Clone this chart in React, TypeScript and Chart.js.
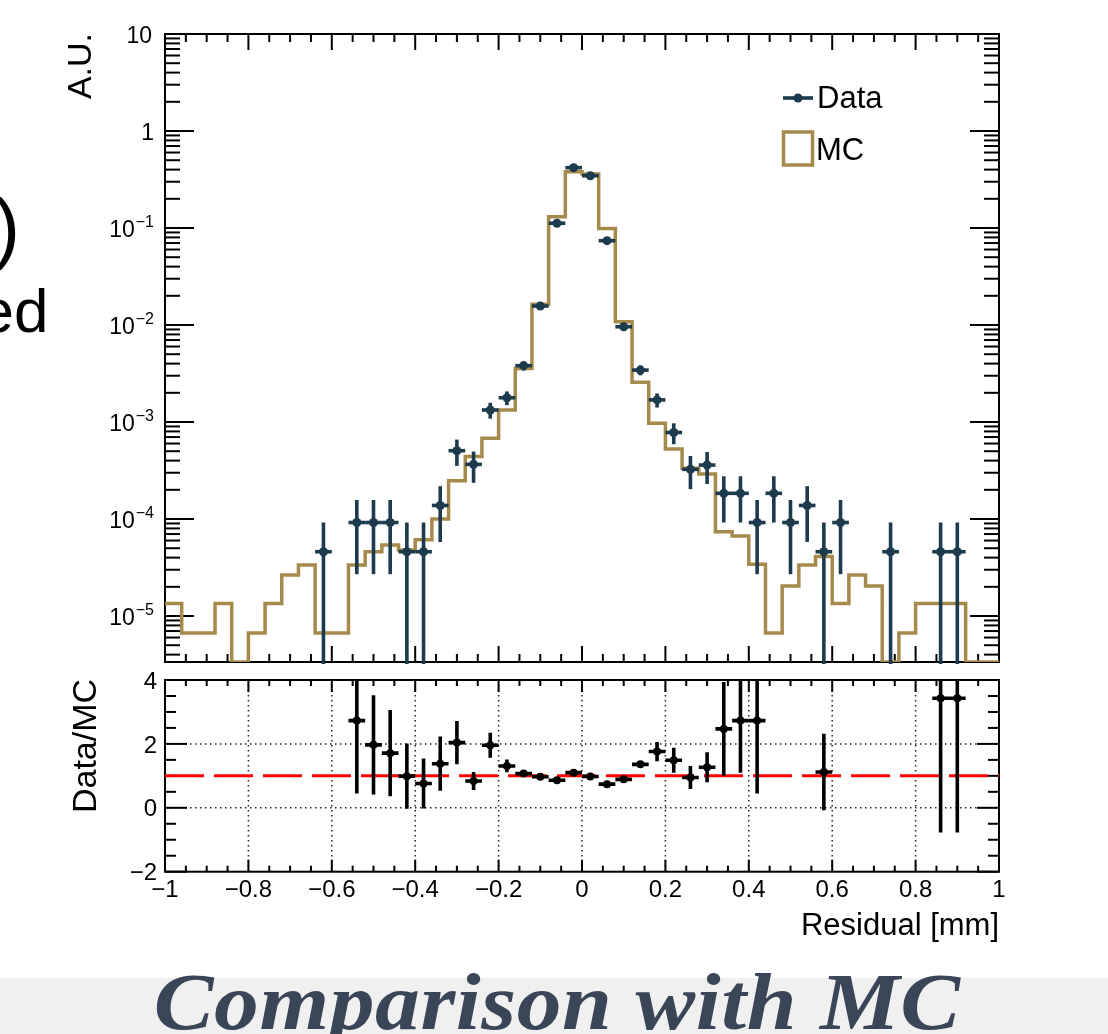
import React, { useEffect, useRef } from "react";
import { Chart, registerables } from "chart.js";

Chart.register(...registerables);

// ---------------- data ----------------
const binCenters = [
  -0.98, -0.94, -0.9, -0.86, -0.82, -0.78, -0.74, -0.7, -0.66, -0.62,
  -0.58, -0.54, -0.5, -0.46, -0.42, -0.38, -0.34, -0.3, -0.26, -0.22,
  -0.18, -0.14, -0.1, -0.06, -0.02, 0.02, 0.06, 0.1, 0.14, 0.18,
  0.22, 0.26, 0.3, 0.34, 0.38, 0.42, 0.46, 0.5, 0.54, 0.58,
  0.62, 0.66, 0.7, 0.74, 0.78, 0.82, 0.86, 0.9, 0.94, 0.98,
];
const binHalfWidth = 0.02;

const mcValues = [
  1.35e-5, 6.7e-6, 6.7e-6, 1.35e-5, 0, 6.7e-6, 1.35e-5, 2.65e-5, 3.36e-5, 6.7e-6,
  6.7e-6, 3.36e-5, 4.6e-5, 5.4e-5, 4.8e-5, 6.1e-5, 1.0e-4, 2.48e-4, 4.4e-4, 6.8e-4,
  1.33e-3, 3.57e-3, 1.64e-2, 0.131, 0.381, 0.36, 0.099, 1.08e-2, 2.57e-3, 9.7e-4,
  5.27e-4, 3.33e-4, 2.91e-4, 7.4e-5, 6.7e-5, 3.41e-5, 6.7e-6, 2.04e-5, 3.36e-5, 4.1e-5,
  1.35e-5, 2.65e-5, 2.04e-5, 0, 6.7e-6, 1.35e-5, 1.35e-5, 1.35e-5, 0, 0,
];

const dataValues = [
  0, 0, 0, 0, 0, 0, 0, 0, 0, 4.6e-5,
  0, 9.2e-5, 9.2e-5, 9.2e-5, 4.6e-5, 4.6e-5, 1.38e-4, 5.06e-4, 3.66e-4, 1.33e-3,
  1.78e-3, 3.81e-3, 1.57e-2, 0.112, 0.419, 0.346, 0.074, 9.6e-3, 3.43e-3, 1.69e-3,
  7.8e-4, 3.25e-4, 3.6e-4, 1.84e-4, 1.84e-4, 9.2e-5, 1.84e-4, 9.2e-5, 1.38e-4, 4.6e-5,
  9.2e-5, 0, 0, 4.6e-5, 0, 0, 4.6e-5, 4.6e-5, 0, 0,
];

const dataErrors = [
  0, 0, 0, 0, 0, 0, 0, 0, 0, 4.6e-5,
  0, 6.5e-5, 6.5e-5, 6.5e-5, 4.6e-5, 4.6e-5, 8.0e-5, 1.53e-4, 1.3e-4, 2.48e-4,
  2.87e-4, 4.2e-4, 8.5e-4, 2.3e-3, 4.4e-3, 4.0e-3, 1.85e-3, 6.6e-4, 4.0e-4, 2.8e-4,
  1.9e-4, 1.22e-4, 1.3e-4, 9.2e-5, 9.2e-5, 6.5e-5, 9.2e-5, 6.5e-5, 8.0e-5, 4.6e-5,
  6.5e-5, 0, 0, 4.6e-5, 0, 0, 4.6e-5, 4.6e-5, 0, 0,
];

const ratioX = [
  -0.54, -0.5, -0.46, -0.42, -0.38, -0.34, -0.3, -0.26, -0.22, -0.18,
  -0.14, -0.1, -0.06, -0.02, 0.02, 0.06, 0.1, 0.14, 0.18, 0.22,
  0.26, 0.3, 0.34, 0.38, 0.42, 0.58, 0.86, 0.9,
];
const ratioY = [
  2.73, 1.97, 1.71, 0.99, 0.76, 1.38, 2.04, 0.84, 1.96, 1.31,
  1.07, 0.97, 0.86, 1.1, 0.98, 0.74, 0.89, 1.36, 1.76, 1.49,
  0.95, 1.27, 2.47, 2.73, 2.73, 1.12, 3.43, 3.43,
];
const ratioErr = [
  2.28, 1.55, 1.35, 1.02, 0.78, 0.85, 0.68, 0.28, 0.39, 0.2,
  0.05, 0.03, 0.03, 0.03, 0.03, 0.03, 0.04, 0.08, 0.3, 0.39,
  0.36, 0.47, 1.47, 1.63, 2.28, 1.2, 4.2, 4.2,
];

const topYMin = Math.pow(10, -5.474);
const topYMax = 10;
const topDecades = [1, 0, -1, -2, -3, -4, -5];
const ratioYTicks = [4, 2, 0, -2];
const ratioYLabels = ["4", "2", "0", "\u22122"];
const ratioXTicks = [-1, -0.8, -0.6, -0.4, -0.2, 0, 0.2, 0.4, 0.6, 0.8, 1];
const ratioXLabels = ["\u22121", "\u22120.8", "\u22120.6", "\u22120.4", "\u22120.2", "0", "0.2", "0.4", "0.6", "0.8", "1"];
const ratioGridX = [-0.8, -0.6, -0.4, -0.2, 0, 0.2, 0.4, 0.6, 0.8];
const ratioGridY = [0, 2];

// ---------------- style ----------------
const MC_COLOR = "#a68a4b";
const DATA_COLOR = "#1c3b4c";
const SANS = '"Liberation Sans", Arial, Helvetica, sans-serif';

function seg(ctx: CanvasRenderingContext2D, x1: number, y1: number, x2: number, y2: number) {
  ctx.beginPath();
  ctx.moveTo(x1, y1);
  ctx.lineTo(x2, y2);
  ctx.stroke();
}

const topPlugin = {
  id: "topDecor",
  beforeDatasetsDraw(chart: any) {
    const { ctx, chartArea: a, scales } = chart;
    const x = scales.x;
    const y = scales.y;
    ctx.save();
    ctx.strokeStyle = "#000";
    ctx.lineWidth = 2;
    ctx.strokeRect(a.left, a.top, a.right - a.left, a.bottom - a.top);
    for (let i = 0; i <= 40; i++) {
      const px = x.getPixelForValue(-1 + i * 0.05);
      const len = i % 4 === 0 ? 16 : 8;
      seg(ctx, px, a.bottom, px, a.bottom - len);
      seg(ctx, px, a.top, px, a.top + len);
    }
    for (let d = -6; d <= 1; d++) {
      for (let m = 1; m <= 9; m++) {
        const v = m * Math.pow(10, d);
        if (v < topYMin * 0.999 || v > topYMax * 1.001) continue;
        const py = y.getPixelForValue(v);
        const len = m === 1 ? 29 : 15;
        seg(ctx, a.left, py, a.left + len, py);
        seg(ctx, a.right, py, a.right - len, py);
      }
    }
    ctx.restore();
  },
  afterDatasetsDraw(chart: any) {
    const { ctx, chartArea: a, scales } = chart;
    const x = scales.x;
    const y = scales.y;
    ctx.save();
    ctx.beginPath();
    ctx.rect(a.left, a.top - 2, a.right - a.left, a.bottom - a.top + 4);
    ctx.clip();
    ctx.strokeStyle = DATA_COLOR;
    ctx.lineWidth = 3.6;
    binCenters.forEach((c, i) => {
      const v = dataValues[i];
      if (!(v > 0)) return;
      const e = dataErrors[i];
      const px = x.getPixelForValue(c);
      const py = y.getPixelForValue(v);
      const lo = v - e > topYMin ? y.getPixelForValue(v - e) : a.bottom + 2;
      const hi = y.getPixelForValue(v + e);
      seg(ctx, px, lo, px, hi);
      seg(ctx, x.getPixelForValue(c - binHalfWidth), py, x.getPixelForValue(c + binHalfWidth), py);
    });
    ctx.restore();
  },
  afterDraw(chart: any) {
    const { ctx, scales } = chart;
    const y = scales.y;
    ctx.save();
    ctx.fillStyle = "#000";
    ctx.textBaseline = "middle";
    const right = 154;
    for (const k of topDecades) {
      const py = y.getPixelForValue(Math.pow(10, k)) + 3;
      if (k === 1 || k === 0) {
        ctx.font = `23px ${SANS}`;
        ctx.textAlign = "right";
        ctx.fillText(k === 1 ? "10" : "1", right - (k === 1 ? 2 : 0), py);
      } else {
        const sup = "\u2212" + String(-k);
        ctx.font = `16px ${SANS}`;
        const w2 = ctx.measureText(sup).width;
        ctx.textAlign = "left";
        ctx.fillText(sup, right - w2, py - 8);
        ctx.font = `23px ${SANS}`;
        ctx.textAlign = "right";
        ctx.fillText("10", right - w2 - 1, py);
      }
    }
    // y title
    ctx.save();
    ctx.translate(82, 33);
    ctx.rotate(-Math.PI / 2);
    ctx.font = `34px ${SANS}`;
    ctx.textAlign = "right";
    ctx.textBaseline = "middle";
    ctx.fillText("A.U.", 0, 0);
    ctx.restore();
    // legend
    ctx.strokeStyle = DATA_COLOR;
    ctx.fillStyle = DATA_COLOR;
    ctx.lineWidth = 3.6;
    seg(ctx, 783, 98, 813, 98);
    ctx.beginPath();
    ctx.arc(798, 98, 4.5, 0, Math.PI * 2);
    ctx.fill();
    ctx.strokeStyle = MC_COLOR;
    ctx.lineWidth = 3.5;
    ctx.strokeRect(783.5, 132, 29, 33);
    ctx.fillStyle = "#000";
    ctx.font = `31px ${SANS}`;
    ctx.textAlign = "left";
    ctx.textBaseline = "middle";
    ctx.fillText("Data", 817, 99);
    ctx.fillText("MC", 816, 151);
    ctx.restore();
  },
};

const ratioPlugin = {
  id: "ratioDecor",
  beforeDatasetsDraw(chart: any) {
    const { ctx, chartArea: a, scales } = chart;
    const x = scales.x;
    const y = scales.y;
    ctx.save();
    ctx.strokeStyle = "#222";
    ctx.lineWidth = 1.5;
    ctx.setLineDash([1.5, 3.5]);
    for (const g of ratioGridX) {
      const px = x.getPixelForValue(g);
      seg(ctx, px, a.top, px, a.bottom);
    }
    for (const g of ratioGridY) {
      const py = y.getPixelForValue(g);
      seg(ctx, a.left, py, a.right, py);
    }
    ctx.setLineDash([]);
    ctx.strokeStyle = "#000";
    ctx.lineWidth = 2;
    ctx.strokeRect(a.left, a.top, a.right - a.left, a.bottom - a.top);
    for (let i = 0; i <= 40; i++) {
      const px = x.getPixelForValue(-1 + i * 0.05);
      const len = i % 4 === 0 ? 12 : 6;
      seg(ctx, px, a.bottom, px, a.bottom - len);
      seg(ctx, px, a.top, px, a.top + len);
    }
    for (let i = 0; i <= 12; i++) {
      const py = y.getPixelForValue(-2 + i * 0.5);
      const len = i % 4 === 0 ? 22 : 11;
      seg(ctx, a.left, py, a.left + len, py);
      seg(ctx, a.right, py, a.right - len, py);
    }
    ctx.restore();
  },
  afterDatasetsDraw(chart: any) {
    const { ctx, chartArea: a, scales } = chart;
    const x = scales.x;
    const y = scales.y;
    ctx.save();
    ctx.beginPath();
    ctx.rect(a.left, a.top, a.right - a.left, a.bottom - a.top);
    ctx.clip();
    ctx.strokeStyle = "#000";
    ctx.lineWidth = 3.6;
    ratioX.forEach((c, i) => {
      const v = ratioY[i];
      const e = ratioErr[i];
      const px = x.getPixelForValue(c);
      const py = y.getPixelForValue(v);
      seg(ctx, px, y.getPixelForValue(v - e), px, y.getPixelForValue(v + e));
      seg(ctx, x.getPixelForValue(c - binHalfWidth), py, x.getPixelForValue(c + binHalfWidth), py);
    });
    ctx.restore();
  },
  afterDraw(chart: any) {
    const { ctx, scales } = chart;
    const x = scales.x;
    const y = scales.y;
    ctx.save();
    ctx.fillStyle = "#000";
    ctx.font = `24px ${SANS}`;
    ctx.textBaseline = "middle";
    ctx.textAlign = "right";
    ratioYTicks.forEach((t, i) => {
      ctx.fillText(ratioYLabels[i], 157, y.getPixelForValue(t) + 2);
    });
    ctx.textAlign = "center";
    ratioXTicks.forEach((t, i) => {
      ctx.fillText(ratioXLabels[i], x.getPixelForValue(t), 225);
    });
    ctx.font = `31px ${SANS}`;
    ctx.textAlign = "right";
    ctx.fillText("Residual [mm]", 999, 261);
    ctx.save();
    ctx.translate(87, 81);
    ctx.rotate(-Math.PI / 2);
    ctx.font = `34px ${SANS}`;
    ctx.textAlign = "center";
    ctx.textBaseline = "middle";
    ctx.fillText("Data/MC", 0, 0);
    ctx.restore();
    ctx.restore();
  },
};

export default function App() {
  const topRef = useRef<HTMLCanvasElement>(null);
  const ratioRef = useRef<HTMLCanvasElement>(null);

  useEffect(() => {
    // points at each bin's lower edge (plus the last upper edge); stepped "before"
    // keeps a point's value until the next point, so bin i spans [lower edge, upper edge]
    const mcPoints = binCenters.map((c, i) => ({ x: c - binHalfWidth, y: Math.max(mcValues[i], topYMin) }));
    mcPoints.push({
      x: binCenters[binCenters.length - 1] + binHalfWidth,
      y: Math.max(mcValues[mcValues.length - 1], topYMin),
    });
    const dataPoints = binCenters
      .map((c, i) => ({ x: c, y: dataValues[i] }))
      .filter((p) => p.y > 0);

    const top = new Chart(topRef.current as HTMLCanvasElement, {
      type: "line",
      data: {
        datasets: [
          {
            label: "MC",
            data: mcPoints,
            stepped: "before",
            borderColor: MC_COLOR,
            borderWidth: 3.5,
            pointRadius: 0,
            fill: false,
            order: 2,
          } as any,
          {
            label: "Data",
            data: dataPoints,
            showLine: false,
            pointRadius: 4.5,
            pointBackgroundColor: DATA_COLOR,
            pointBorderWidth: 0,
            borderColor: DATA_COLOR,
            order: 1,
          } as any,
        ],
      },
      options: {
        animation: false,
        responsive: false,
        devicePixelRatio: 1,
        layout: { padding: { left: 165, right: 109, top: 34, bottom: 6 } },
        scales: {
          x: { type: "linear", min: -1, max: 1, display: false },
          y: { type: "logarithmic", min: topYMin, max: topYMax, display: false },
        },
        plugins: { legend: { display: false }, tooltip: { enabled: false } },
        events: [],
      },
      plugins: [topPlugin],
    } as any);

    const ratio = new Chart(ratioRef.current as HTMLCanvasElement, {
      type: "line",
      data: {
        datasets: [
          {
            label: "unity",
            data: [
              { x: -1, y: 1 },
              { x: 1, y: 1 },
            ],
            borderColor: "#ff0000",
            borderWidth: 3,
            borderDash: [39, 10],
            pointRadius: 0,
            fill: false,
            order: 2,
          } as any,
          {
            label: "ratio",
            data: ratioX.map((c, i) => ({ x: c, y: ratioY[i] })),
            showLine: false,
            pointRadius: 4,
            pointBackgroundColor: "#000",
            pointBorderWidth: 0,
            order: 1,
          } as any,
        ],
      },
      options: {
        animation: false,
        responsive: false,
        devicePixelRatio: 1,
        layout: { padding: { left: 165, right: 109, top: 15, bottom: 73.3 } },
        scales: {
          x: { type: "linear", min: -1, max: 1, display: false },
          y: { type: "linear", min: -2, max: 4, display: false },
        },
        plugins: { legend: { display: false }, tooltip: { enabled: false } },
        events: [],
      },
      plugins: [ratioPlugin],
    } as any);

    return () => {
      top.destroy();
      ratio.destroy();
    };
  }, []);

  return (
    <div
      style={{
        position: "absolute",
        left: 0,
        top: 0,
        width: 1108,
        height: 1034,
        background: "#fff",
        overflow: "hidden",
        fontFamily: SANS,
      }}
    >
      <div
        style={{
          position: "absolute",
          left: -100,
          width: 120,
          top: 187.6,
          fontSize: 78,
          lineHeight: "78px",
          textAlign: "right",
          color: "#000",
          whiteSpace: "nowrap",
        }}
      >
        )
      </div>
      <div
        style={{
          position: "absolute",
          left: -151.5,
          width: 200,
          top: 280,
          fontSize: 62,
          lineHeight: "62px",
          textAlign: "right",
          color: "#000",
          whiteSpace: "nowrap",
        }}
      >
        ed
      </div>
      <canvas
        ref={topRef}
        width={1108}
        height={668}
        style={{ position: "absolute", left: 0, top: 0, width: 1108, height: 668 }}
      />
      <canvas
        ref={ratioRef}
        width={1108}
        height={280}
        style={{ position: "absolute", left: 0, top: 665, width: 1108, height: 280 }}
      />
      <div
        style={{
          position: "absolute",
          left: 0,
          top: 978,
          width: 1108,
          height: 56,
          background: "#f0f0f0",
        }}
      />
      <div
        style={{
          position: "absolute",
          left: 0,
          top: 962,
          width: 1108,
          textAlign: "center",
          whiteSpace: "nowrap",
        }}
      >
        <span
          style={{
            display: "inline-block",
            transform: "translateX(3px) scaleX(1.12)",
            fontFamily: '"Liberation Serif", "Times New Roman", serif',
            fontWeight: "bold",
            fontStyle: "italic",
            fontSize: 80,
            letterSpacing: "0.5px",
            lineHeight: "80px",
            color: "#3a4557",
          }}
        >
          Comparison with MC
        </span>
      </div>
    </div>
  );
}
